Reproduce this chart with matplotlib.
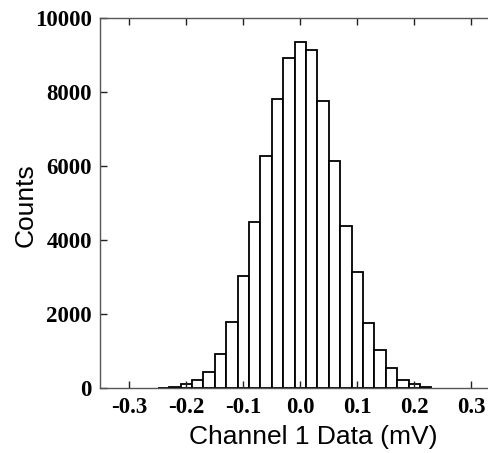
import numpy as np
import matplotlib
matplotlib.use("Agg")
import matplotlib.pyplot as plt

# histogram: left bin edges (mV) and counts
bin_left = [-0.25, -0.23, -0.21, -0.19, -0.17, -0.15, -0.13, -0.11, -0.09,
            -0.07, -0.05, -0.03, -0.01, 0.01, 0.03, 0.05, 0.07, 0.09,
            0.11, 0.13, 0.15, 0.17, 0.19, 0.21]
counts = [20, 30, 108, 233, 449, 934, 1797, 3022, 4487,
          6268, 7806, 8921, 9336, 9128, 7744, 6133, 4388, 3138,
          1770, 1042, 560, 233, 112, 40]
bin_width = 0.02
xticks = [-0.3, -0.2, -0.1, 0.0, 0.1, 0.2, 0.3]
yticks = [0, 2000, 4000, 6000, 8000, 10000]

fig = plt.figure(figsize=(4.88, 4.53), dpi=100)
# axes runs off the right edge, as in the original
ax = fig.add_axes([100.3 / 488, (453 - 388.3) / 453, 399.5 / 488, 370.6 / 453])

ax.bar(bin_left, counts, width=bin_width, align='edge',
       color='white', edgecolor='black', linewidth=1.3)

ax.set_xlim(-0.3508, 0.35)
ax.set_ylim(0, 10000)
ax.set_xticks(xticks)
ax.set_xticklabels(["%.1f" % t for t in xticks])
ax.set_yticks(yticks)

for s in ax.spines.values():
    s.set_color('#555555')
    s.set_linewidth(1.0)

ax.tick_params(direction='in', length=5, width=1, top=True, right=False,
               color='#222222', pad=6)
for lab in ax.get_xticklabels() + ax.get_yticklabels():
    lab.set_fontfamily('Liberation Serif')
    lab.set_fontweight('bold')
    lab.set_fontsize(16.5)

ax.set_xlabel("Channel 1 Data (mV)", family='Liberation Sans', fontsize=19)
ax.set_ylabel("Counts", family='Liberation Sans', fontsize=19)
ax.xaxis.set_label_coords((313 - 100.3) / 399.5, -(437 - 388.3) / 370.6)
ax.yaxis.set_label_coords((26 - 100.3) / 399.5, 0.495)
ax.xaxis.label.set_va('center')
ax.yaxis.label.set_va('center')

fig.savefig("out.png", dpi=100)
